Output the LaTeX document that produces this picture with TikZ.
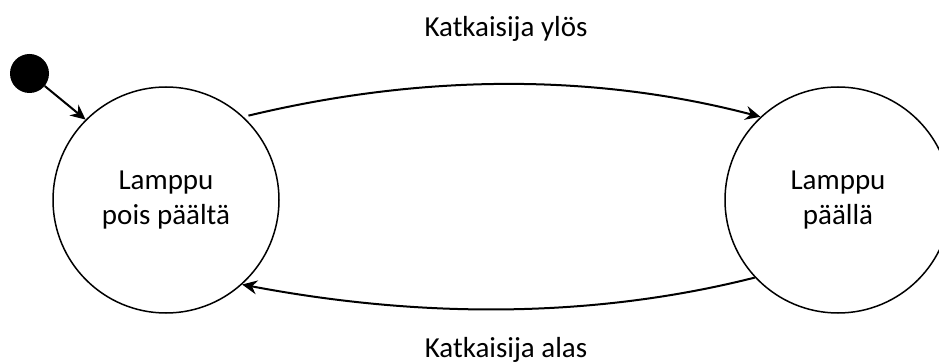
\documentclass[tikz,border=0pt]{standalone}
\usepackage{fontspec}
\setmainfont{Carlito}
\usetikzlibrary{arrows.meta}
\begin{document}
\begin{tikzpicture}[x=1pt,y=-1pt,
  state/.style={circle,draw,line width=1.5pt,minimum size=226pt,inner sep=0pt,
    align=center,font=\fontsize{29}{35}\selectfont},
  initdot/.style={circle,fill=black,minimum size=39pt,inner sep=0pt},
  trans/.style={line width=2pt,-{Stealth[length=15pt,width=14pt,inset=5pt]}},
  lbl/.style={font=\fontsize{29}{35}\selectfont,anchor=base}]
\useasboundingbox (0,0) rectangle (939,363);
\begin{scope}
\clip (0,0) rectangle (939,363);
\node[state] (off) at (166,200) {Lamppu\\pois päältä};
\node[state] (on) at (838,200) {Lamppu\\päällä};
\node[initdot] (init) at (29.5,73.5) {};
\draw[trans] (init) -- (off.135);
\draw[trans,shorten <=5pt] (off.47) .. controls (426,73) and (597,74) .. (on.133);
\draw[trans] (on.223.6) .. controls (595,318) and (424,319) .. (off.312.8);
\node[lbl] (up) at (506,37) {Katkaisija ylös};
\node[lbl] (down) at (506,357) {Katkaisija alas};
\end{scope}
\end{tikzpicture}
\end{document}
